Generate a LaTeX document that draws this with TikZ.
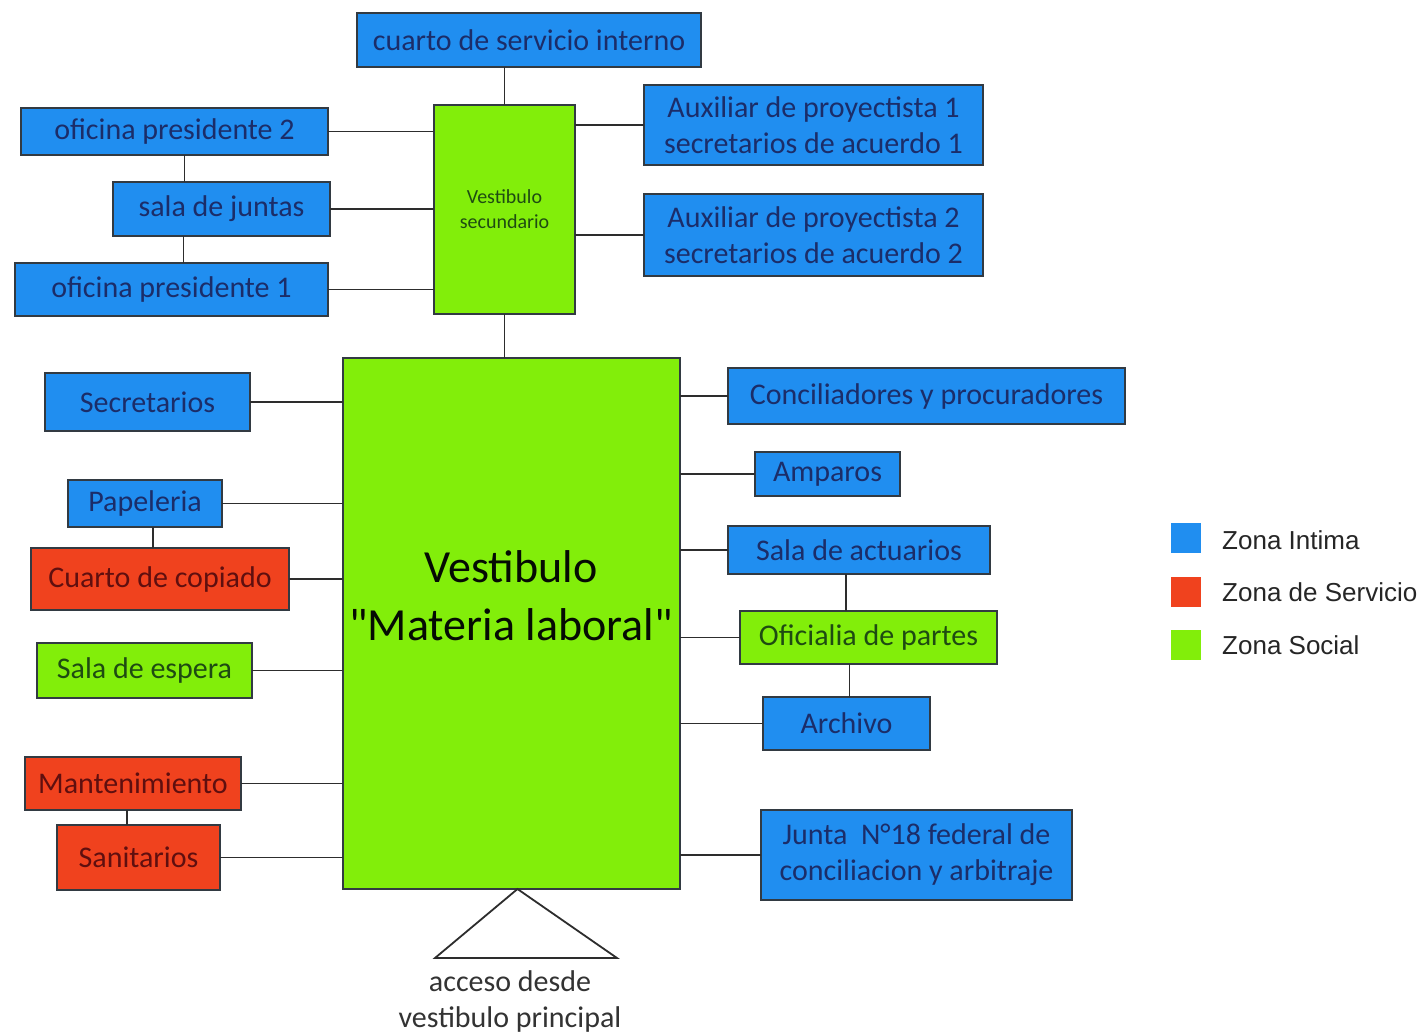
\documentclass[tikz,border=0pt]{standalone}
\usepackage{fontspec}
\setmainfont{Carlito}[Ligatures=TeXOff]
\newfontfamily\legendfont{Liberation Sans}
\definecolor{zblue}{RGB}{32,142,240}
\definecolor{zred}{RGB}{240,66,30}
\definecolor{zgreen}{RGB}{130,238,10}
\definecolor{tblue}{RGB}{27,45,105}
\definecolor{tred}{RGB}{95,15,15}
\definecolor{tgreen}{RGB}{30,75,18}
\definecolor{edgegray}{RGB}{50,58,66}
\definecolor{linegray}{RGB}{45,45,45}
\begin{document}
\begin{tikzpicture}[x=1pt,y=-1pt,
  room/.style={draw=edgegray, line width=1.8pt, inner sep=0pt, outer sep=0pt,
    anchor=north west, align=center, font=\fontsize{30}{36}\selectfont},
  intima/.style={room, fill=zblue, text=tblue},
  servicio/.style={room, fill=zred, text=tred},
  social/.style={room, fill=zgreen, text=tgreen},
  sz/.style 2 args={minimum width=#1pt, minimum height=#2pt},
  link/.style={draw=linegray, line width=1.8pt},
  key/.style={minimum size=30pt, inner sep=0pt, outer sep=0pt},
  keytext/.style={anchor=west, inner sep=0pt, text=black!85,
    font=\legendfont\fontsize{26}{30}\selectfont}]
\useasboundingbox[fill=white] (0,0) rectangle (1428,1034);

% upper group around the secondary hall
\node[intima, sz={344}{54}] (cuarto) at (357,13) {cuarto de servicio interno};
\node[social, sz={141}{209}, font=\fontsize{20}{25}\selectfont] (vsec) at (434,105) {Vestibulo\\secundario};
\node[intima, sz={307}{47}] (op2) at (21,108) {oficina presidente 2};
\node[intima, sz={217}{54}] (juntas) at (113,182) {sala de juntas};
\node[intima, sz={313}{53}] (op1) at (15,263) {oficina presidente 1};
\node[intima, sz={339}{80}] (aux1) at (644,85) {Auxiliar de proyectista 1\\secretarios de acuerdo 1};
\node[intima, sz={339}{82}] (aux2) at (644,194) {Auxiliar de proyectista 2\\secretarios de acuerdo 2};

% main hall
\node[social, sz={337}{531}] (lab) at (343,358) {};
\node[text=black!85!tgreen, align=center, font=\fontsize{46}{58}\selectfont] (labname) at (511,596) {Vestibulo\\"Materia laboral"};

% left column
\node[intima, sz={205}{58}] (secr) at (45,373) {Secretarios};
\node[intima, sz={154}{47}] (pap) at (68,480) {Papeleria};
\node[servicio, sz={258}{62}] (copia) at (31,548) {Cuarto de copiado};
\node[social, sz={215}{55}] (espera) at (37,643) {Sala de espera};
\node[servicio, sz={216}{53}] (mant) at (25,757) {Mantenimiento};
\node[servicio, sz={163}{65}] (sanit) at (57,825) {Sanitarios};

% right column
\node[intima, sz={397}{56}] (concil) at (728,368) {Conciliadores y procuradores};
\node[intima, sz={145}{44}] (amparos) at (755,452) {Amparos};
\node[intima, sz={262}{48}] (actu) at (728,526) {Sala de actuarios};
\node[social, sz={257}{53}] (ofic) at (740,611) {Oficialia de partes};
\node[intima, sz={167}{53}] (archivo) at (763,697) {Archivo};
\node[intima, sz={311}{90}] (junta) at (761,810) {Junta\ \ N°18 federal de\\conciliacion y arbitraje};

% connectors
\draw[link] (vsec.north) -- (vsec.north |- cuarto.south);
\draw[link] (vsec.south) -- (vsec.south |- lab.north);
\draw[link] (op2.east) -- (op2.east -| vsec.west);
\draw[link] (juntas.east) -- (juntas.east -| vsec.west);
\draw[link] (op1.east) -- (op1.east -| vsec.west);
\draw[link] ([xshift=10pt]op2.south) -- ([xshift=10pt]op2.south |- juntas.north);
\draw[link] ([xshift=-38pt]juntas.south) -- ([xshift=-38pt]juntas.south |- op1.north);
\draw[link] (aux1.west) -- (aux1.west -| vsec.east);
\draw[link] (aux2.west) -- (aux2.west -| vsec.east);

\draw[link] (secr.east) -- (secr.east -| lab.west);
\draw[link] (pap.east) -- (pap.east -| lab.west);
\draw[link] ([xshift=8pt]pap.south) -- ([xshift=8pt]pap.south |- copia.north);
\draw[link] (copia.east) -- (copia.east -| lab.west);
\draw[link] (espera.east) -- (espera.east -| lab.west);
\draw[link] (mant.east) -- (mant.east -| lab.west);
\draw[link] ([xshift=-6pt]mant.south) -- ([xshift=-6pt]mant.south |- sanit.north);
\draw[link] (sanit.east) -- (sanit.east -| lab.west);

\draw[link] (concil.west) -- (concil.west -| lab.east);
\draw[link] (amparos.west) -- (amparos.west -| lab.east);
\draw[link] (actu.west) -- (actu.west -| lab.east);
\draw[link] ([xshift=-13pt]actu.south) -- ([xshift=-13pt]actu.south |- ofic.north);
\draw[link] (ofic.west) -- (ofic.west -| lab.east);
\draw[link] ([xshift=-19pt]ofic.south) -- ([xshift=-19pt]ofic.south |- archivo.north);
\draw[link] (archivo.west) -- (archivo.west -| lab.east);
\draw[link] (junta.west) -- (junta.west -| lab.east);

% entrance marker
\coordinate (apex) at ([xshift=6pt]lab.south);
\coordinate (baseL) at (435,958);
\coordinate (baseR) at (617,958);
\draw[link] (apex) -- (baseL) -- (baseR) -- cycle;
\node[align=center, text=black!80, font=\fontsize{30}{36}\selectfont] (acceso) at (510,1001) {acceso desde\\vestibulo principal};

% legend
\node[key, fill=zblue] (kb) at (1186,538) {};
\node[key, fill=zred] (kr) at (1186,592) {};
\node[key, fill=zgreen] (kg) at (1186,645) {};
\node[keytext] (kbt) at (1222,540) {Zona Intima};
\node[keytext] (krt) at (1222,592) {Zona de Servicio};
\node[keytext] (kgt) at (1222,645) {Zona Social};
\end{tikzpicture}
\end{document}
